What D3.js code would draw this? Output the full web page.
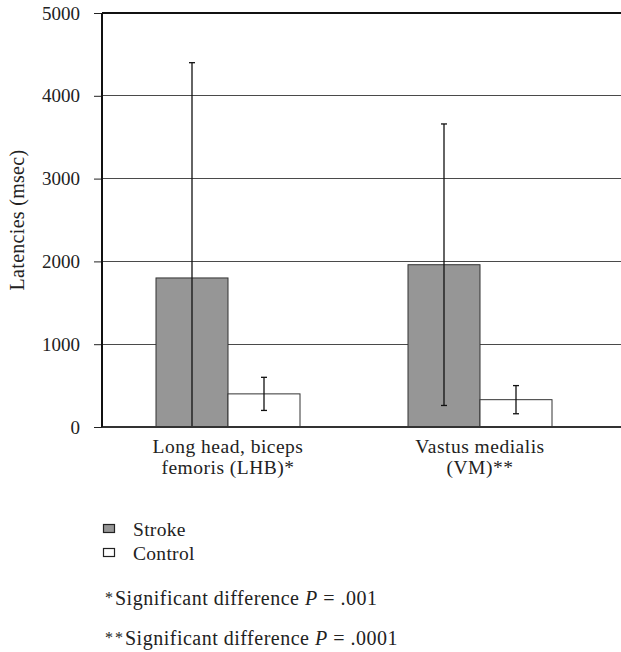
<!DOCTYPE html>
<html>
<head>
<meta charset="utf-8">
<script src="https://cdn.jsdelivr.net/npm/d3@7"></script>
</head>
<body style="margin:0; background:#fff">
<svg id="chart" width="621" height="652"></svg>
<script>
// data
var muscles = ["LHB", "VM"];
var muscleLabels = [["Long head, biceps", "femoris (LHB)*"], ["Vastus medialis", "(VM)**"]];
var groups = ["Stroke", "Control"];
var strokeMean = [1800, 1960];
var strokeSD = [2600, 1700];
var controlMean = [400, 330];
var controlSD = [200, 170];
var yTicks = [0, 1000, 2000, 3000, 4000, 5000];
var footnotes = [
  { stars: "*", text: "Significant difference ", p: ".001" },
  { stars: "**", text: "Significant difference ", p: ".0001" }
];

var FONT = "Liberation Serif";
var margin = { top: 13, left: 102 },
  width = 504, height = 414;

var svg = d3.select("#chart");
var g = svg.append("g")
  .attr("transform", "translate(" + margin.left + "," + margin.top + ")");

var x = d3.scaleBand().domain(muscles).range([0, width]);
var sub = d3.scaleBand().domain(groups).range([x.bandwidth() / 2 - 72, x.bandwidth() / 2 + 72]);
var y = d3.scaleLinear().domain([0, 5000]).range([height, 0]);

var color = { Stroke: "#969696", Control: "#ffffff" };

// gridlines (run to the right edge of the picture)
g.append("g")
  .selectAll("line")
  .data(yTicks.filter(function (d) { return d > 0; }))
  .enter().append("line")
  .attr("x1", 0)
  .attr("x2", 621 - margin.left)
  .attr("y1", function (d) { return y(d); })
  .attr("y2", function (d) { return y(d); })
  .attr("stroke", function (d) { return d === 5000 ? "#111" : "#4a4a4a"; })
  .attr("stroke-width", function (d) { return d === 5000 ? 1.5 : 1; })
  .attr("shape-rendering", "crispEdges");

// y axis
var yAxis = g.append("g")
  .call(d3.axisLeft(y).tickValues(yTicks).tickSize(8).tickPadding(14).tickFormat(d3.format("d")))
  .attr("font-family", FONT)
  .attr("font-size", 19);
yAxis.select(".domain").remove();
yAxis.selectAll(".tick line").attr("stroke", "#222");
yAxis.selectAll("text").attr("fill", "#222");

// bars
var flat = [];
muscles.forEach(function (m, i) {
  flat.push({ m: m, grp: "Stroke", v: strokeMean[i], sd: strokeSD[i] });
  flat.push({ m: m, grp: "Control", v: controlMean[i], sd: controlSD[i] });
});

g.selectAll(".bar")
  .data(flat)
  .enter().append("rect")
  .attr("class", "bar")
  .attr("x", function (d) { return x(d.m) + sub(d.grp); })
  .attr("width", sub.bandwidth())
  .attr("y", function (d) { return y(d.v); })
  .attr("height", function (d) { return height - y(d.v); })
  .attr("fill", function (d) { return color[d.grp]; })
  .attr("stroke", "#333")
  .attr("stroke-width", 1);

// error bars, clipped at zero
var err = g.selectAll(".err")
  .data(flat)
  .enter().append("g")
  .attr("class", "err")
  .attr("transform", function (d) {
    return "translate(" + (x(d.m) + sub(d.grp) + sub.bandwidth() / 2) + ",0)";
  });
err.append("line")
  .attr("y1", function (d) { return y(Math.max(0, d.v - d.sd)); })
  .attr("y2", function (d) { return y(d.v + d.sd); })
  .attr("stroke", "#111").attr("stroke-width", 1.3);
err.append("line")
  .attr("x1", -3).attr("x2", 3)
  .attr("y1", function (d) { return y(d.v + d.sd); })
  .attr("y2", function (d) { return y(d.v + d.sd); })
  .attr("stroke", "#111").attr("stroke-width", 1.3);
err.filter(function (d) { return d.v - d.sd > 0; })
  .append("line")
  .attr("x1", -3).attr("x2", 3)
  .attr("y1", function (d) { return y(d.v - d.sd); })
  .attr("y2", function (d) { return y(d.v - d.sd); })
  .attr("stroke", "#111").attr("stroke-width", 1.3);

// axis lines
g.append("line")
  .attr("x1", 0).attr("x2", 621 - margin.left)
  .attr("y1", height).attr("y2", height)
  .attr("stroke", "#333").attr("stroke-width", 2);
g.append("line")
  .attr("x1", 0).attr("x2", 0)
  .attr("y1", 0).attr("y2", height)
  .attr("stroke", "#111").attr("stroke-width", 2);

// category labels
var cat = g.selectAll(".cat")
  .data(muscles)
  .enter().append("text")
  .attr("class", "cat")
  .attr("text-anchor", "middle")
  .attr("font-family", FONT)
  .attr("font-size", 19.5)
  .attr("letter-spacing", 0.5)
  .attr("fill", "#222")
  .attr("transform", function (d) { return "translate(" + (x(d) + x.bandwidth() / 2) + "," + (height + 26) + ")"; });
cat.selectAll("tspan")
  .data(function (d, i) { return muscleLabels[i]; })
  .enter().append("tspan")
  .attr("x", 0)
  .attr("dy", function (d, i) { return i === 0 ? 0 : 21; })
  .text(function (d) { return d; });

// y axis title
svg.append("text")
  .attr("transform", "translate(24," + (margin.top + height / 2) + ") rotate(-90)")
  .attr("text-anchor", "middle")
  .attr("font-family", FONT)
  .attr("font-size", 20)
  .attr("letter-spacing", 0.3)
  .attr("fill", "#222")
  .text("Latencies (msec)");

// legend
var legend = svg.selectAll(".legend")
  .data(groups)
  .enter().append("g")
  .attr("class", "legend")
  .attr("transform", function (d, i) { return "translate(103," + (528.5 + i * 24) + ")"; });
legend.append("rect")
  .attr("x", 0.5).attr("y", -4)
  .attr("width", 11).attr("height", 8)
  .attr("fill", function (d) { return color[d]; })
  .attr("stroke", "#222").attr("stroke-width", 1.2);
legend.append("text")
  .attr("x", 30).attr("y", 7)
  .attr("font-family", FONT)
  .attr("font-size", 19.5)
  .attr("letter-spacing", 0.3)
  .attr("fill", "#222")
  .text(function (d) { return d; });

// footnotes
var notes = svg.selectAll(".note")
  .data(footnotes)
  .enter().append("text")
  .attr("class", "note")
  .attr("x", 105)
  .attr("y", function (d, i) { return 605 + i * 40; })
  .attr("font-family", FONT)
  .attr("font-size", 20)
  .attr("letter-spacing", 0.5)
  .attr("fill", "#222");
notes.append("tspan")
  .attr("dy", -2).attr("font-size", 16)
  .attr("letter-spacing", 2)
  .text(function (d) { return d.stars; });
notes.append("tspan")
  .attr("dy", 2)
  .text(function (d) { return d.text; });
notes.append("tspan")
  .attr("font-style", "italic")
  .text("P");
notes.append("tspan")
  .text(function (d) { return " = " + d.p; });
</script>
</body>
</html>
